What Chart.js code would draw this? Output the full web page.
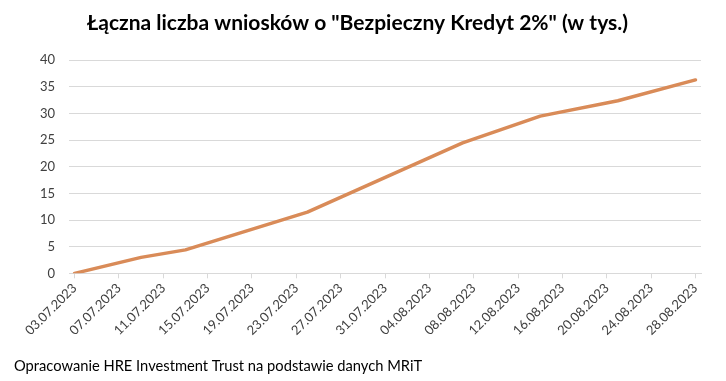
<!DOCTYPE html>
<html>
<head>
<meta charset="utf-8">
<script src="https://cdn.jsdelivr.net/npm/chart.js@4"></script>
<style>
  html, body { margin: 0; padding: 0; background: #fff; }
  #wrap { width: 726px; height: 381px; }
</style>
</head>
<body>
<div id="wrap"><canvas id="myChart" width="726" height="381"></canvas></div>
<script>
const titleText = 'Łączna liczba wniosków o "Bezpieczny Kredyt 2%" (w tys.)';
const sourceText = "Opracowanie HRE Investment Trust na podstawie danych MRiT";

// x axis labels (every 4 days)
const tickLabels = [
  "03.07.2023", "07.07.2023", "11.07.2023", "15.07.2023", "19.07.2023",
  "23.07.2023", "27.07.2023", "31.07.2023", "04.08.2023", "08.08.2023",
  "12.08.2023", "16.08.2023", "20.08.2023", "24.08.2023", "28.08.2023",
];

// reported dates and cumulative applications (thousands)
const pointDates = [
  "03.07.2023", "09.07.2023", "13.07.2023", "24.07.2023",
  "07.08.2023", "14.08.2023", "21.08.2023", "28.08.2023",
];
const applications = [0, 3.0, 4.4, 11.5, 24.5, 29.5, 32.4, 36.3];

const yTicks = [0, 5, 10, 15, 20, 25, 30, 35, 40];

const font = "Lato, 'Open Sans', sans-serif";
const lineColor = "#d98b58";
const gridColor = "#d9d9d9";

function toDate(s) {
  const [d, m, y] = s.split(".").map(Number);
  return Date.UTC(y, m - 1, d);
}
const day0 = toDate(tickLabels[0]);
const dayOf = (s) => Math.round((toDate(s) - day0) / 86400000);
const lastDay = dayOf(tickLabels[tickLabels.length - 1]);

const ctx = document.getElementById("myChart").getContext("2d");

const myChart = new Chart(ctx, {
  type: "line",
  data: {
    datasets: [
      {
        data: pointDates.map((d, i) => ({ x: dayOf(d), y: applications[i] })),
        borderColor: lineColor,
        borderWidth: 3.5,
        pointRadius: 0,
        tension: 0,
        borderJoinStyle: "round",
        borderCapStyle: "round",
      },
    ],
  },
  options: {
    responsive: false,
    animation: false,
    layout: { padding: { left: 14, right: 25, top: 0, bottom: 6 } },
    scales: {
      x: {
        type: "linear",
        min: -0.5,
        max: lastDay + 0.5,
        afterBuildTicks: (scale) => {
          scale.ticks = tickLabels.map((l) => ({ value: dayOf(l) }));
        },
        ticks: {
          autoSkip: false,
          maxRotation: 45,
          minRotation: 45,
          color: "#404040",
          font: { family: font, size: 13 },
          padding: 2,
          callback: (value, index) => tickLabels[index],
        },
        grid: { drawOnChartArea: false, color: gridColor, tickLength: 5 },
        border: { color: gridColor },
      },
      y: {
        min: 0,
        max: 40,
        afterBuildTicks: (scale) => {
          scale.ticks = yTicks.map((v) => ({ value: v }));
        },
        afterFit: (scale) => {
          scale.width = 55;
        },
        ticks: {
          color: "#404040",
          font: { family: font, size: 13 },
          padding: 14,
        },
        grid: { color: gridColor, drawTicks: false },
        border: { display: false },
      },
    },
    plugins: {
      legend: { display: false },
      tooltip: { enabled: false },
      title: {
        display: true,
        text: titleText,
        color: "#000",
        font: { family: font, size: 21, weight: "bold" },
        padding: { top: 11, bottom: 24 },
      },
      subtitle: {
        display: true,
        text: sourceText,
        position: "bottom",
        align: "start",
        color: "#000",
        font: { family: font, size: 14.7, weight: "normal" },
        padding: { top: 17, bottom: 0 },
      },
    },
  },
});
</script>
</body>
</html>
